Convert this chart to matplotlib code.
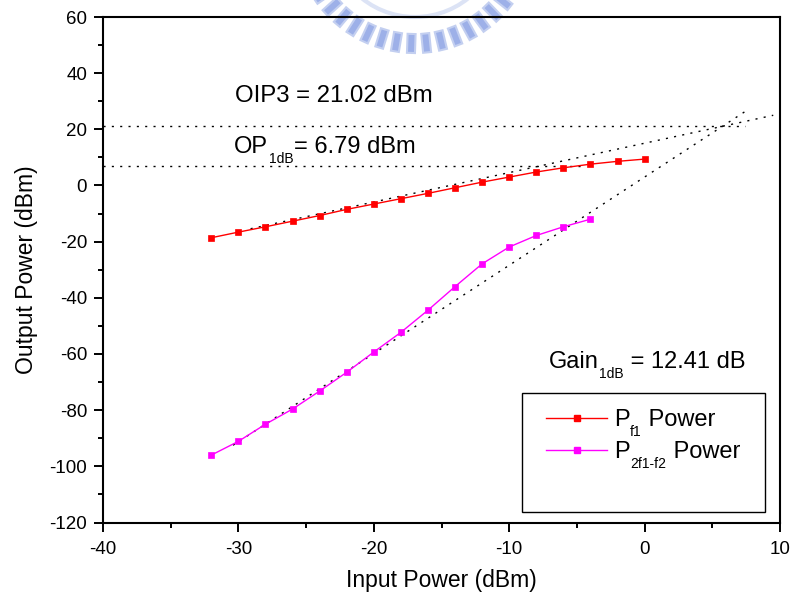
import numpy as np
import matplotlib
matplotlib.use("Agg")
import matplotlib.pyplot as plt
from matplotlib.patches import Polygon, Rectangle, Circle
from matplotlib.lines import Line2D
from matplotlib.ticker import MultipleLocator

plt.rcParams['font.family'] = ['Liberation Sans', 'DejaVu Sans']
plt.rcParams['axes.unicode_minus'] = False

# Measured two-tone sweep
pin_f1 = [-32, -30, -28, -26, -24, -22, -20, -18, -16, -14, -12, -10, -8, -6, -4, -2, 0]
pout_f1 = [-18.6, -16.6, -14.7, -12.7, -10.7, -8.5, -6.6, -4.7, -2.8, -0.8,
           1.2, 3.0, 4.8, 6.3, 7.6, 8.6, 9.4]
pin_im3 = [-32, -30, -28, -26, -24, -22, -20, -18, -16, -14, -12, -10, -8, -6, -4]
pout_im3 = [-96.0, -91.1, -85.0, -79.6, -73.2, -66.5, -59.3, -52.3, -44.4, -36.0,
            -27.9, -21.9, -17.8, -14.7, -12.0]

# Linear extrapolations (fundamental and third-order)
fund_fit_x = [-29.1, 9.5]
fund_fit_y = [-15.4, 25.0]
im3_fit_x = [-30.4, 7.6]
im3_fit_y = [-92.5, 26.9]

# Reference levels
oip3 = 21.02
op1db = 6.79
gain1db = 12.41
oip3_span = [-40, 7.4]
op1db_span = [-40, -4.3]

W, H, DPI = 795, 600, 100
fig = plt.figure(figsize=(W / DPI, H / DPI), dpi=DPI)

# Faint emblem behind the plot, in figure pixel coordinates
emb = fig.add_axes([0, 0, 1, 1], zorder=0)
emb.set_xlim(0, W)
emb.set_ylim(H, 0)
emb.axis('off')
cx, cy = 415, -68
r_in, r_out, half_w = 102, 121, 4.0
n_bars = 47
for k in range(n_bars):
    a = 2 * np.pi * k / n_bars
    ux, uy = np.cos(a), np.sin(a)
    px, py = -uy, ux
    pts = [(cx + ux * r_in + px * half_w, cy + uy * r_in + py * half_w),
           (cx + ux * r_out + px * half_w, cy + uy * r_out + py * half_w),
           (cx + ux * r_out - px * half_w, cy + uy * r_out - py * half_w),
           (cx + ux * r_in - px * half_w, cy + uy * r_in - py * half_w)]
    emb.add_patch(Polygon(pts, closed=True, facecolor='#9db0e8', edgecolor='#c3cff0',
                          lw=1.5))
emb.add_patch(Circle((cx, cy), 85, facecolor='none', edgecolor='#dce3f5', lw=3))

ax = fig.add_axes([103 / W, 1 - 522.5 / H, (780 - 103) / W, (522.5 - 17) / H], zorder=1)
ax.patch.set_alpha(0)

dot = (0, (1.5, 4.5))
ax.plot(oip3_span, [oip3, oip3], color='black', lw=1.0, linestyle=dot)
ax.plot(op1db_span, [op1db, op1db], color='black', lw=1.0, linestyle=dot)
ax.plot(fund_fit_x, fund_fit_y, color='black', lw=1.0, linestyle=dot)
ax.plot(im3_fit_x, im3_fit_y, color='black', lw=1.0, linestyle=dot)

style_f1 = dict(color='#ff0000', lw=1.0, marker='s', markersize=5,
                markeredgewidth=0.5, markeredgecolor='#ff0000')
style_im3 = dict(color='#ff00ff', lw=1.0, marker='s', markersize=5,
                 markeredgewidth=0.5, markeredgecolor='#ff00ff')
ax.plot(pin_f1, pout_f1, **style_f1)
ax.plot(pin_im3, pout_im3, **style_im3)

ax.set_xlim(-40, 10)
ax.set_ylim(-120, 60)
ax.xaxis.set_major_locator(MultipleLocator(10))
ax.xaxis.set_minor_locator(MultipleLocator(5))
ax.yaxis.set_major_locator(MultipleLocator(20))
ax.yaxis.set_minor_locator(MultipleLocator(10))
ax.tick_params(which='both', direction='out', top=False, right=False, width=1.4,
               labelsize=13.5)
ax.tick_params(axis='x', which='both', pad=7)
ax.tick_params(axis='y', which='both', pad=5)
ax.tick_params(which='major', length=6.5)
ax.tick_params(which='minor', length=3.8)
for s in ax.spines.values():
    s.set_linewidth(1.5)

ax.set_xlabel('Input Power (dBm)', fontsize=16.5, labelpad=8)
ax.set_ylabel('Output Power (dBm)', fontsize=16.5, labelpad=8)

FS, FS_SUB, DROP = 17, 10, 7.0


def rich_text(x, y, parts, coords='data', fs=FS, zorder=5):
    """Write a run of (text, is_subscript) pieces starting at a baseline point."""
    prev = ax.annotate(parts[0][0], xy=(x, y), xycoords=coords, fontsize=fs,
                       ha='left', va='baseline', zorder=zorder)
    for s, is_sub in parts[1:]:
        prev = ax.annotate(s, xy=(1, y), xycoords=(prev, coords),
                           xytext=(0.4 if is_sub else 0.3, -DROP if is_sub else 0),
                           textcoords='offset points',
                           fontsize=FS_SUB if is_sub else fs,
                           ha='left', va='baseline', zorder=zorder)
    return prev


rich_text(-30.25, 29.7, [('OIP3 = %.2f dBm' % oip3, False)], fs=17.3)
rich_text(-30.3, 11.4, [('OP', False), ('1dB', True), ('= %.2f dBm' % op1db, False)])
rich_text(-7.06, -65.1, [('Gain', False), ('1dB', True), (' = %.2f dB' % gain1db, False)])

# Legend box with extra room below the entries
ax.add_patch(Rectangle((0.619, 0.0198), 0.978 - 0.619, 0.257 - 0.0198,
                       transform=ax.transAxes, facecolor='white', edgecolor='black',
                       lw=1.0, zorder=3))


def fx(px):
    return (px - 103) / 677


def fy(py):
    return (522.5 - py) / 505.5


legend_rows = [
    (style_f1, 418, [('P', False), ('f1', True), (' Power', False)]),
    (style_im3, 450, [('P', False), ('2f1-f2', True), (' Power', False)]),
]
for st, py, parts in legend_rows:
    ax.add_line(Line2D([fx(546), fx(607)], [fy(py), fy(py)], transform=ax.transAxes,
                       color=st['color'], lw=st['lw'], zorder=4))
    ax.add_line(Line2D([fx(577)], [fy(py)], transform=ax.transAxes, linestyle='none',
                       marker='s', markersize=st['markersize'], color=st['color'],
                       markeredgecolor=st['markeredgecolor'], zorder=4))
    rich_text(fx(614), fy(py + 8.5), parts, coords='axes fraction')

fig.savefig('out.png', dpi=DPI, facecolor='white')
